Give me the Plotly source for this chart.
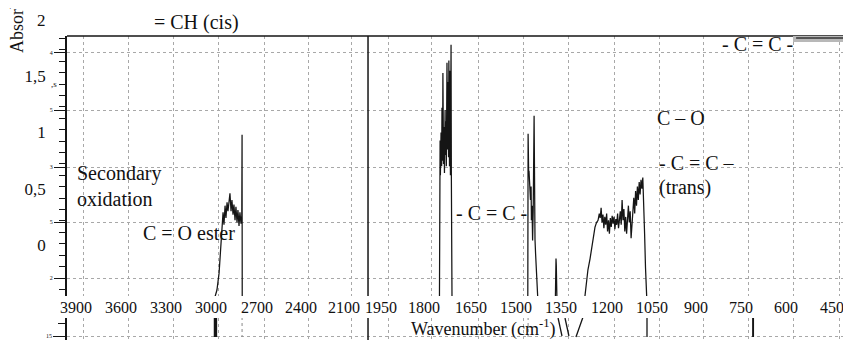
import numpy as np
import plotly.graph_objects as go

# ---------------- data ----------------
TICK_WN = [3900, 3600, 3300, 3000, 2700, 2400, 2100, 1950, 1800, 1650,
           1500, 1350, 1200, 1050, 900, 750, 600, 450]
TICK_TEXT = [str(w) for w in TICK_WN]

Y_TICK_VALS = [0, 0.5, 1, 1.5]
Y_TICK_TEXT = ["0", "0,5", "1", "1,5"]
Y_SMALL_VALS = [1.707, 1.2, 0.693, 0.204, -0.293]
Y_SMALL_TEXT = ["4", "5", "3", "5", "2"]

# C-H stretching region (~3000-2840 cm-1)
CH_WN = [3020, 3007, 2993, 2987, 2980, 2974, 2967, 2961, 2954, 2948, 2941, 2935,
         2928, 2922, 2915, 2909, 2902, 2896, 2889, 2883, 2876, 2870, 2863, 2857,
         2850, 2845, 2843, 2842]
CH_ABS = [-0.46, -0.40, -0.25, -0.13, -0.02, 0.13, 0.29, 0.18, 0.35, 0.24, 0.38, 0.30,
          0.42, 0.46, 0.30, 0.40, 0.27, 0.36, 0.22, 0.34, 0.20, 0.31, 0.17, 0.29,
          0.19, 0.26, 0.98, -0.46]

# C=O ester band (~1770-1733 cm-1)
CO_WN = [1773, 1771, 1770, 1768, 1766, 1765, 1763, 1762, 1760, 1759, 1757, 1755,
         1754, 1752, 1751, 1749, 1747, 1746, 1744, 1743, 1741, 1740, 1738, 1736,
         1735, 1733]
CO_ABS = [-0.46, 0.93, 0.62, 1.00, 0.70, 1.22, 0.75, 1.53, 0.72, 1.05, 0.64, 1.20,
          0.80, 1.10, 0.70, 1.62, 0.85, 1.45, 0.78, 1.64, 0.70, 1.55, 0.62, 1.78,
          0.60, -0.46]

# -C=C- band (~1484-1451 cm-1)
DB_WN = [1484, 1483, 1481, 1480, 1478, 1477, 1475, 1473, 1472, 1470, 1468, 1466,
         1463, 1462, 1460, 1458, 1455, 1451]
DB_ABS = [-0.46, 0.99, 0.62, 0.66, 0.48, 0.60, 0.40, 0.52, 0.22, 0.35, 0.04, 0.30,
          1.15, 0.30, 0.05, -0.08, -0.25, -0.46]

# small band near 1390 cm-1
SM_WN = [1392, 1390, 1389, 1387]
SM_ABS = [-0.46, -0.12, -0.18, -0.46]

# C-O / trans -C=C- band (~1295-1090 cm-1)
FP_WN = [1295, 1290, 1285, 1278, 1272, 1267, 1262, 1257, 1252, 1248, 1245, 1242,
         1239, 1236, 1233, 1230, 1227, 1224, 1221, 1218, 1215, 1212, 1209, 1206,
         1203, 1200, 1197, 1194, 1191, 1188, 1185, 1182, 1179, 1176, 1173, 1170,
         1167, 1164, 1161, 1158, 1155, 1152, 1149, 1146, 1143, 1140, 1137, 1134,
         1131, 1128, 1125, 1122, 1119, 1116, 1113, 1110, 1107, 1104, 1101, 1098,
         1095, 1091]
FP_ABS = [-0.46, -0.33, -0.22, -0.12, -0.02, 0.08, 0.16, 0.20, 0.22, 0.28, 0.24, 0.33,
          0.20, 0.27, 0.15, 0.25, 0.18, 0.28, 0.12, 0.22, 0.10, 0.24, 0.16, 0.26,
          0.19, 0.25, 0.14, 0.23, 0.18, 0.28, 0.15, 0.22, 0.30, 0.18, 0.40, 0.22,
          0.32, 0.12, 0.25, 0.10, 0.22, 0.35, 0.20, 0.30, 0.06, 0.24, 0.30, 0.42,
          0.28, 0.48, 0.35, 0.52, 0.40, 0.56, 0.45, 0.58, 0.50, 0.60, 0.40, 0.10,
          -0.20, -0.46]

# lower (cut-off) spectrum panel
LOW_WN = [3024, 3024, None, 3017, 3017, None, 3010, 3010, None,
          1383, 1370, None, 1360, 1347, None, 1301, 1324, None,
          1090, 1090, None, 734, 734, None, 732, 732]
LOW_VAL = [16.9, 14.9, None, 16.9, 14.9, None, 16.9, 14.9, None,
           16.8, 15.0, None, 16.8, 15.0, None, 16.9, 14.9, None,
           16.9, 14.9, None, 16.9, 14.9, None, 16.9, 14.9]
LOW_FAINT_WN = [2843, 2843, None, 1483, 1483]
LOW_FAINT_VAL = [16.9, 14.9, None, 16.9, 14.9]

BREAK_WN = 2031

# ---------------- axis geometry (scanned, non-uniform wavenumber scale) ----------------
TICK_POS = [83, 128, 173, 218, 264, 308, 351, 388, 431, 478,
            523, 568, 614, 659, 703, 748, 793, 839]
_XP = [-w for w in TICK_WN]


def to_pos(wn_list):
    out = []
    for w in wn_list:
        if w is None:
            out.append(None)
        else:
            out.append(float(np.interp(-w, _XP, TICK_POS)))
    return out


INK = "#151515"
GRID = "#a8a8a8"
SERIF = "Liberation Serif, Times New Roman, serif"

fig = go.Figure()

for wn, ab in [(CH_WN, CH_ABS), (CO_WN, CO_ABS), (DB_WN, DB_ABS),
               (SM_WN, SM_ABS), (FP_WN, FP_ABS)]:
    fig.add_trace(go.Scatter(x=to_pos(wn), y=ab, mode="lines",
                             line=dict(color=INK, width=1.25),
                             xaxis="x", yaxis="y", showlegend=False, hoverinfo="skip"))

# invisible trace to host the tick/grid overlay axis
fig.add_trace(go.Scatter(x=[None], y=[None], xaxis="x", yaxis="y3",
                         showlegend=False, hoverinfo="skip"))

fig.add_trace(go.Scatter(x=to_pos(LOW_WN), y=LOW_VAL, mode="lines",
                         line=dict(color=INK, width=1.3), connectgaps=False,
                         xaxis="x2", yaxis="y2", showlegend=False, hoverinfo="skip"))
fig.add_trace(go.Scatter(x=to_pos(LOW_FAINT_WN), y=LOW_FAINT_VAL, mode="lines",
                         line=dict(color="#888", width=1, dash="dot"), connectgaps=False,
                         xaxis="x2", yaxis="y2", showlegend=False, hoverinfo="skip"))

Y_RANGE = [-0.453, 1.858]
MAIN_DOM = [44 / 304, 1.0]
LOW_DOM = [0.0, 22 / 304]

# the page adds an 8 px body margin, so the figure is 8 px smaller and margins compensate
fig.update_layout(
    width=843, height=332,
    margin=dict(l=59, r=0, t=28, b=0),
    paper_bgcolor="white", plot_bgcolor="white",
    font=dict(family=SERIF, color="#111", size=16),
    xaxis=dict(domain=[0, 1], range=[67, 851], anchor="y",
               tickmode="array", tickvals=to_pos(TICK_WN), ticktext=TICK_TEXT,
               ticks="", showline=False, zeroline=False,
               showgrid=True, gridcolor=GRID, griddash="dot", gridwidth=1,
               ticklabelshift=-7, ticklabelstandoff=0,
               tickfont=dict(size=16, family=SERIF, color="#111")),
    xaxis2=dict(domain=[0, 1], range=[67, 851], anchor="y2", matches="x",
                tickmode="array", tickvals=to_pos(TICK_WN), showticklabels=False,
                ticks="", showline=False, zeroline=False,
                showgrid=True, gridcolor=GRID, griddash="dot", gridwidth=1),
    yaxis=dict(domain=MAIN_DOM, range=Y_RANGE, anchor="x",
               tickmode="array", tickvals=Y_TICK_VALS, ticktext=Y_TICK_TEXT,
               ticks="", showgrid=False, zeroline=False,
               showline=True, linecolor=INK, linewidth=1.5,
               ticklabelstandoff=16,
               tickfont=dict(size=17, family=SERIF, color="#111")),
    yaxis3=dict(overlaying="y", side="left", anchor="x", range=Y_RANGE,
                tickmode="array", tickvals=Y_SMALL_VALS, ticktext=Y_SMALL_TEXT,
                ticks="outside", ticklen=12, tickcolor=INK, tickwidth=1,
                showgrid=True, gridcolor=GRID, griddash="dot", gridwidth=1,
                zeroline=False, showline=False,
                tickfont=dict(size=6, family=SERIF, color="#111"),
                minor=dict(ticks="outside", ticklen=7, tickcolor=INK,
                           tick0=-0.293, dtick=0.1014, showgrid=False)),
    yaxis2=dict(domain=LOW_DOM, range=[14.6, 16.8], anchor="x2",
                tickmode="array", tickvals=[15], ticktext=["15"],
                ticks="outside", ticklen=12, tickcolor=INK,
                showgrid=True, gridcolor=GRID, griddash="dot",
                zeroline=False, showline=True, linecolor=INK, linewidth=1.5,
                tickfont=dict(size=6, family=SERIF, color="#111"),
                minor=dict(ticks="outside", ticklen=7, tickcolor=INK,
                           tickmode="array", tickvals=[16.3])),
)

# top frame line
fig.add_shape(type="line", xref="paper", yref="paper", x0=0, x1=1, y0=1, y1=1,
              line=dict(color=INK, width=1.5))
# vertical scale-break line (both panels)
bx = to_pos([BREAK_WN])[0]
fig.add_shape(type="line", xref="x", yref="y domain", x0=bx, x1=bx, y0=0, y1=1,
              line=dict(color=INK, width=1.5))
fig.add_shape(type="line", xref="x2", yref="y2 domain", x0=bx, x1=bx, y0=0, y1=1,
              line=dict(color=INK, width=1.5))
# smudged legend key at top right
fig.add_shape(type="rect", xref="paper", yref="paper", x0=0.926, x1=1.0,
              y0=(340 - 42) / 304, y1=(340 - 36) / 304,
              fillcolor="#b8b8b8", line=dict(width=0))
fig.add_shape(type="line", xref="paper", yref="paper", x0=0.93, x1=1.0,
              y0=(340 - 38) / 304, y1=(340 - 38) / 304,
              line=dict(color="#333", width=1.5))


def px_x(px):
    return (px - 67) / 784


def px_y(py):
    return (340 - py) / 304


ANN = [
    ("= CH (cis)", 196, 22, "center", 20),
    ("Secondary<br>oxidation", 75, 186, "left", 20),
    ("C = O ester", 189, 233, "center", 20),
    ("- C = C -", 491, 213, "center", 20),
    ("C – O", 655, 118, "left", 20),
    ("- C = C –", 657, 163, "left", 20),
    ("(trans)", 657, 187, "left", 20),
    ("- C = C -", 720, 44, "left", 20),
    ("Wavenumber (cm<sup>-1</sup>)", 483, 328, "center", 18),
]
for text, x, y, anchor, size in ANN:
    fig.add_annotation(text=text, xref="paper", yref="paper", x=px_x(x), y=px_y(y),
                       xanchor=anchor, yanchor="middle", showarrow=False,
                       font=dict(family=SERIF, size=size, color="#111"), align="left")

# "2" label above the frame, subscript mark next to 1,5 and the cut-off y title
fig.add_annotation(text="2", xref="paper", yref="paper", x=px_x(48), y=px_y(20),
                   xanchor="right", yanchor="middle", showarrow=False,
                   font=dict(family=SERIF, size=17, color="#111"))
fig.add_annotation(text=",s", xref="paper", yref="paper", x=px_x(49), y=px_y(84),
                   xanchor="left", yanchor="middle", showarrow=False,
                   font=dict(family=SERIF, size=9, color="#111"))
fig.add_annotation(text="Absorbance", xref="paper", yref="paper", x=px_x(17), y=px_y(55),
                   xanchor="center", yanchor="bottom", textangle=-90, showarrow=False,
                   font=dict(family=SERIF, size=18, color="#111"))

fig.write_html("out.html")
